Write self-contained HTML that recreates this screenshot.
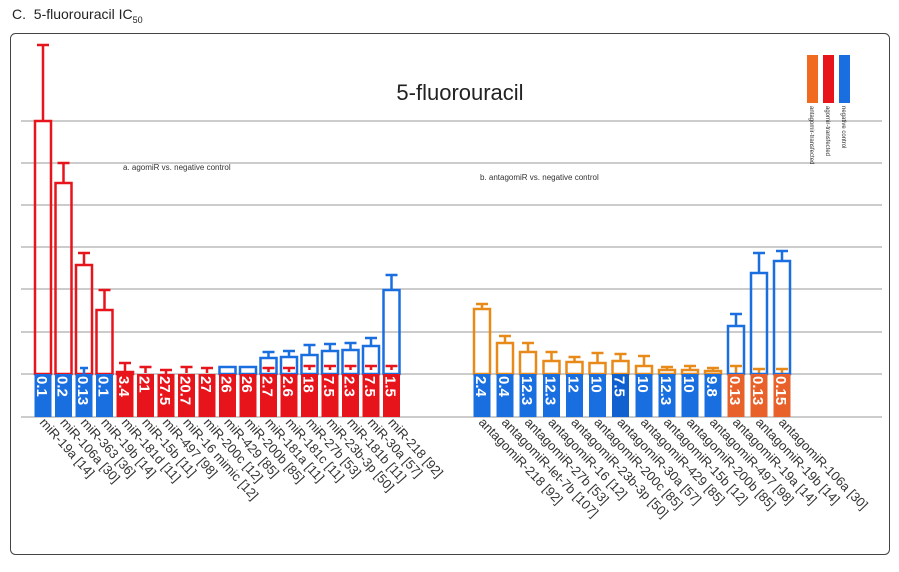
<!DOCTYPE html>
<html><head><meta charset="utf-8"><style>
html,body{margin:0;padding:0;background:#fff;width:899px;height:572px;overflow:hidden}
svg{display:block}
</style></head><body>
<svg width="899" height="572" xmlns="http://www.w3.org/2000/svg" font-family="Liberation Sans, sans-serif">
<text x="12" y="19" font-size="14" fill="#222">C.&#160;&#160;5-fluorouracil IC<tspan font-size="9" dy="4">50</tspan></text>
<rect x="10.5" y="33.5" width="879" height="521" rx="5" fill="#fff" stroke="#444" stroke-width="1"/>
<g stroke="#999" stroke-width="1">
<line x1="21" y1="121" x2="882" y2="121"/><line x1="21" y1="163" x2="882" y2="163"/>
<line x1="21" y1="205" x2="882" y2="205"/><line x1="21" y1="247" x2="882" y2="247"/>
<line x1="21" y1="289" x2="882" y2="289"/><line x1="21" y1="332" x2="882" y2="332"/>
<line x1="21" y1="374" x2="882" y2="374"/><line x1="21" y1="417" x2="882" y2="417"/>
</g>
<text x="460" y="100" font-size="22" text-anchor="middle" fill="#222">5-fluorouracil</text>
<text x="123" y="170" font-size="8" fill="#333">a. agomiR vs. negative control</text>
<text x="480" y="180" font-size="8" fill="#333">b. antagomiR vs. negative control</text>
<!-- legend -->
<rect x="807" y="55" width="11" height="48" fill="#f06a20"/>
<rect x="823" y="55" width="11" height="48" fill="#e8141c"/>
<rect x="839" y="55" width="11" height="48" fill="#1a6fe0"/>
<g font-size="6" fill="#333">
<text transform="translate(810,106) rotate(90)">antagomir-transfected</text>
<text transform="translate(826,106) rotate(90)">agomir-transfected</text>
<text transform="translate(842,106) rotate(90)">negative control</text>
</g>
<!-- left outline bars and error bars -->
<g fill="none" stroke-width="2.5">
<g stroke="#e8141c">
<rect x="35" y="121" width="16" height="253"/><path d="M43 121V45M37 45h12"/>
<rect x="55.5" y="183" width="16" height="191"/><path d="M63.5 183V163M57.5 163h12"/>
<rect x="76" y="265" width="16" height="109"/><path d="M84 265V253M78 253h12"/>
<rect x="96.5" y="310" width="16" height="64"/><path d="M104.5 310V290M98.5 290h12"/>
<rect x="117" y="372" width="16" height="2"/><path d="M125 372V363M119 363h12"/>
<path d="M145.5 373V367M139.5 367h12"/><path d="M166 374V370M160 370h12"/>
<path d="M186.5 373V367M180.5 367h12"/><path d="M207 373V368M201 368h12"/>
<path d="M309.5 370V366M303.5 366h12M330 370V366M324 366h12M350.5 370V366M344.5 366h12M371 370V366M365 366h12M391.5 370V366M385.5 366h12M268.5 372V368M262.5 368h12M289 372V368M283 368h12"/>
</g>
<g stroke="#1a6fe0">
<path d="M84 374V368M80 368h8"/>
<rect x="219.5" y="367" width="16" height="7"/><rect x="240" y="367" width="16" height="7"/>
<rect x="260.5" y="358" width="16" height="16"/><path d="M268.5 358V352M262.5 352h12"/>
<rect x="281" y="357" width="16" height="17"/><path d="M289 357V351M283 351h12"/>
<rect x="301.5" y="355" width="16" height="19"/><path d="M309.5 355V345M303.5 345h12"/>
<rect x="322" y="351" width="16" height="23"/><path d="M330 351V344M324 344h12"/>
<rect x="342.5" y="350" width="16" height="24"/><path d="M350.5 350V343M344.5 343h12"/>
<rect x="363" y="346" width="16" height="28"/><path d="M371 346V338M365 338h12"/>
<rect x="383.5" y="290" width="16" height="84"/><path d="M391.5 290V275M385.5 275h12"/>
</g>
<g stroke="#e88a1a">
<rect x="474" y="309" width="16" height="65"/><path d="M482 309V304M476 304h12"/>
<rect x="497" y="343" width="16" height="31"/><path d="M505 343V336M499 336h12"/>
<rect x="520" y="352" width="16" height="22"/><path d="M528 352V343M522 343h12"/>
<rect x="543.5" y="361" width="16" height="13"/><path d="M551.5 361V352M545.5 352h12"/>
<rect x="566.5" y="362" width="16" height="12"/><path d="M574.5 362V357M568.5 357h12"/>
<rect x="589.5" y="363" width="16" height="11"/><path d="M597.5 363V353M591.5 353h12"/>
<rect x="612.5" y="361" width="16" height="13"/><path d="M620.5 361V354M614.5 354h12"/>
<rect x="636" y="366" width="16" height="8"/><path d="M644 366V356M638 356h12"/>
<rect x="659" y="370" width="16" height="4"/><path d="M667 370V367M661 367h12"/>
<rect x="682" y="370" width="16" height="4"/><path d="M690 370V366M684 366h12"/>
<rect x="705" y="371" width="16" height="3"/><path d="M713 371V368M707 368h12"/>
<path d="M736 374V366M730 366h12M759 374V369M753 369h12M782 374V369M776 369h12"/>
</g>
<g stroke="#1a6fe0">
<rect x="728" y="326" width="16" height="48"/><path d="M736 326V314M730 314h12"/>
<rect x="751" y="273" width="16" height="101"/><path d="M759 273V253M753 253h12"/>
<rect x="774" y="261" width="16" height="113"/><path d="M782 261V251M776 251h12"/>
</g>
</g>
<!-- value boxes -->
<g>
<rect x="34.5" y="374" width="17" height="43" fill="#1a6fe0"/><rect x="55" y="374" width="17" height="43" fill="#1a6fe0"/>
<rect x="75.5" y="374" width="17" height="43" fill="#1a6fe0"/><rect x="96" y="374" width="17" height="43" fill="#1a6fe0"/>
<rect x="116.5" y="374" width="17" height="43" fill="#e8141c"/><rect x="137" y="374" width="17" height="43" fill="#e8141c"/>
<rect x="157.5" y="374" width="17" height="43" fill="#e8141c"/><rect x="178" y="374" width="17" height="43" fill="#e8141c"/>
<rect x="198.5" y="374" width="17" height="43" fill="#e8141c"/><rect x="219" y="374" width="17" height="43" fill="#e8141c"/>
<rect x="239.5" y="374" width="17" height="43" fill="#e8141c"/><rect x="260" y="374" width="17" height="43" fill="#e8141c"/>
<rect x="280.5" y="374" width="17" height="43" fill="#e8141c"/><rect x="301" y="374" width="17" height="43" fill="#e8141c"/>
<rect x="321.5" y="374" width="17" height="43" fill="#e8141c"/><rect x="342" y="374" width="17" height="43" fill="#e8141c"/>
<rect x="362.5" y="374" width="17" height="43" fill="#e8141c"/><rect x="383" y="374" width="17" height="43" fill="#e8141c"/>
<rect x="473.5" y="374" width="17" height="43" fill="#1a6fe0"/><rect x="496.5" y="374" width="17" height="43" fill="#1a6fe0"/>
<rect x="519.5" y="374" width="17" height="43" fill="#1a6fe0"/><rect x="543" y="374" width="17" height="43" fill="#1a6fe0"/>
<rect x="566" y="374" width="17" height="43" fill="#1a6fe0"/><rect x="589" y="374" width="17" height="43" fill="#1a6fe0"/>
<rect x="612" y="374" width="17" height="43" fill="#1060d0"/><rect x="635.5" y="374" width="17" height="43" fill="#1a6fe0"/>
<rect x="658.5" y="374" width="17" height="43" fill="#1a6fe0"/><rect x="681.5" y="374" width="17" height="43" fill="#1a6fe0"/>
<rect x="704.5" y="374" width="17" height="43" fill="#1a6fe0"/><rect x="727.5" y="374" width="17" height="43" fill="#e8602a"/>
<rect x="750.5" y="374" width="17" height="43" fill="#e8602a"/><rect x="773.5" y="374" width="17" height="43" fill="#e8602a"/>
</g>
<g font-size="15" font-weight="bold" fill="#fff">
<text transform="translate(37,376) rotate(90)">0.1</text><text transform="translate(57.5,376) rotate(90)">0.2</text>
<text transform="translate(78,376) rotate(90)">0.13</text><text transform="translate(98.5,376) rotate(90)">0.1</text>
<text transform="translate(119,376) rotate(90)">3.4</text><text transform="translate(139.5,376) rotate(90)">21</text>
<text transform="translate(160,376) rotate(90)">27.5</text><text transform="translate(180.5,376) rotate(90)">20.7</text>
<text transform="translate(201,376) rotate(90)">27</text><text transform="translate(221.5,376) rotate(90)">26</text>
<text transform="translate(242,376) rotate(90)">26</text><text transform="translate(262.5,376) rotate(90)">2.7</text>
<text transform="translate(283,376) rotate(90)">2.6</text><text transform="translate(303.5,376) rotate(90)">18</text>
<text transform="translate(324,376) rotate(90)">7.5</text><text transform="translate(344.5,376) rotate(90)">2.3</text>
<text transform="translate(365,376) rotate(90)">7.5</text><text transform="translate(385.5,376) rotate(90)">1.5</text>
<text transform="translate(476,376) rotate(90)">2.4</text><text transform="translate(499,376) rotate(90)">0.4</text>
<text transform="translate(522,376) rotate(90)">12.3</text><text transform="translate(545.5,376) rotate(90)">12.3</text>
<text transform="translate(568.5,376) rotate(90)">12</text><text transform="translate(591.5,376) rotate(90)">10</text>
<text transform="translate(614.5,376) rotate(90)">7.5</text><text transform="translate(638,376) rotate(90)">10</text>
<text transform="translate(661,376) rotate(90)">12.3</text><text transform="translate(684,376) rotate(90)">10</text>
<text transform="translate(707,376) rotate(90)">9.8</text><text transform="translate(730,376) rotate(90)">0.13</text>
<text transform="translate(753,376) rotate(90)">0.13</text><text transform="translate(776,376) rotate(90)">0.15</text>
</g>
<!-- category labels -->
<g font-size="13" fill="#333">
<text transform="translate(39,423) rotate(48)">miR-19a [14]</text>
<text transform="translate(59.5,423) rotate(48)">miR-106a [30]</text>
<text transform="translate(80,423) rotate(48)">miR-363 [36]</text>
<text transform="translate(100.5,423) rotate(48)">miR-19b [14]</text>
<text transform="translate(121,423) rotate(48)">miR-181d [11]</text>
<text transform="translate(141.5,423) rotate(48)">miR-15b [11]</text>
<text transform="translate(162,423) rotate(48)">miR-497 [98]</text>
<text transform="translate(182.5,423) rotate(48)">miR-16 mimic [12]</text>
<text transform="translate(203,423) rotate(48)">miR-200c [12]</text>
<text transform="translate(223.5,423) rotate(48)">miR-429 [85]</text>
<text transform="translate(244,423) rotate(48)">miR-200b [85]</text>
<text transform="translate(264.5,423) rotate(48)">miR-181a [11]</text>
<text transform="translate(285,423) rotate(48)">miR-181c [11]</text>
<text transform="translate(305.5,423) rotate(48)">miR-27b [53]</text>
<text transform="translate(326,423) rotate(48)">miR-23b-3p [50]</text>
<text transform="translate(346.5,423) rotate(48)">miR-181b [11]</text>
<text transform="translate(367,423) rotate(48)">miR-30a [57]</text>
<text transform="translate(387.5,423) rotate(48)">miR-218 [92]</text>
<text transform="translate(478,423) rotate(46)">antagomiR-218 [92]</text>
<text transform="translate(501,423) rotate(46)">antagomiR-let-7b [107]</text>
<text transform="translate(524,423) rotate(46)">antagomiR-27b [53]</text>
<text transform="translate(547.5,423) rotate(46)">antagomiR-16 [12]</text>
<text transform="translate(570.5,423) rotate(46)">antagomiR-23b-3p [50]</text>
<text transform="translate(593.5,423) rotate(46)">antagomiR-200c [85]</text>
<text transform="translate(616.5,423) rotate(46)">antagomiR-30a [57]</text>
<text transform="translate(640,423) rotate(46)">antagomiR-429 [85]</text>
<text transform="translate(663,423) rotate(46)">antagomiR-15b [12]</text>
<text transform="translate(686,423) rotate(46)">antagomiR-200b [85]</text>
<text transform="translate(709,423) rotate(46)">antagomiR-497 [98]</text>
<text transform="translate(732,423) rotate(46)">antagomiR-19a [14]</text>
<text transform="translate(755,423) rotate(46)">antagomiR-19b [14]</text>
<text transform="translate(778,423) rotate(46)">antagomiR-106a [30]</text>
</g>
</svg>
</body></html>
